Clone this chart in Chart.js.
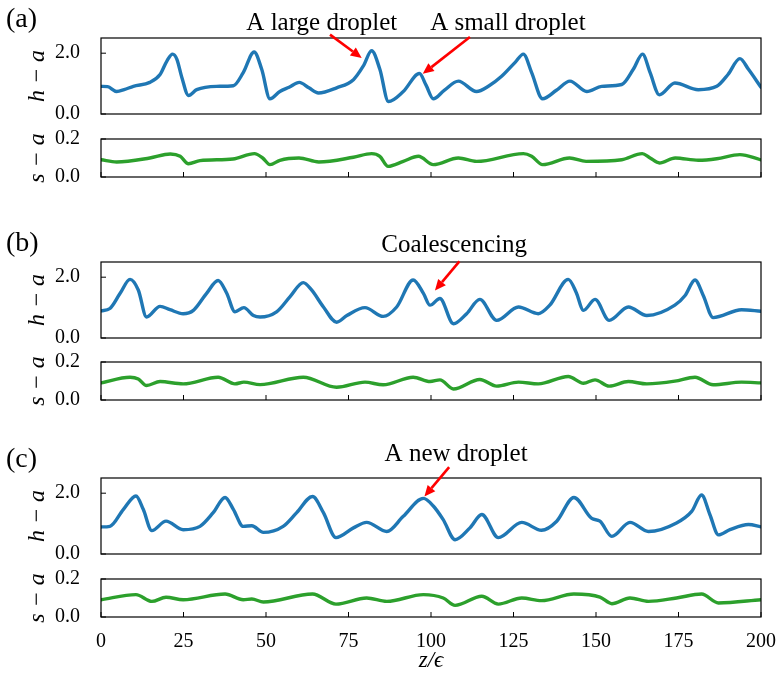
<!DOCTYPE html>
<html>
<head>
<meta charset="utf-8">
<script src="https://cdn.jsdelivr.net/npm/chart.js@4"></script>
<style>
  body { margin: 0; background: #fff; }
  #fig { position: relative; width: 778px; height: 675px; overflow: hidden; }
  #fig canvas { position: absolute; left: 0; }
</style>
</head>
<body>
<div id="fig"></div>
<script>
// axis ticks and labels
const xTicks = [0, 25, 50, 75, 100, 125, 150, 175, 200];
const hTicks = [0, 2];
const sTicks = [0, 0.2];
const hMax = 2.5;
const sMax = 0.2;
const hTitle = 'h − a';
const sTitle = 's − a';
const xTitle = 'z/ϵ';

// (a) film thickness h-a and s-a as [z, value]
const hA = [[0,0.91],[2,0.9],[4.75,0.74],[7,0.8],[9.8,0.91],[14.8,1.04],[17.9,1.3],[20,1.75],[21.7,1.97],[23,1.8],[24.5,1.2],[26.5,0.61],[29,0.8],[35,0.91],[40.1,0.93],[43.1,1.36],[46.4,2.04],[48.7,1.47],[51.2,0.5],[54.2,0.74],[57,0.88],[60.1,1.04],[63,0.86],[65.9,0.69],[71.4,0.86],[76.5,1.13],[79.5,1.58],[82,2.08],[84.5,1.47],[87.1,0.41],[91.6,0.74],[96.5,1.33],[98.5,0.95],[100.7,0.5],[104,0.78],[108.3,1.08],[113.8,0.74],[117.5,0.92],[121.4,1.24],[125.5,1.7],[128,1.97],[130.5,1.36],[133.8,0.5],[138,0.78],[142.1,1.08],[147.2,0.74],[151.7,0.91],[157.8,0.97],[161.3,1.47],[164.1,1.97],[166.4,1.36],[169.2,0.63],[173.9,1.02],[181,0.8],[186.6,0.91],[190,1.3],[193.6,1.82],[196.2,1.47],[200,0.88]];
const sA = [[0,0.091],[4.75,0.079],[14.8,0.1],[21,0.121],[24,0.109],[26.5,0.07],[30,0.086],[40,0.095],[46.5,0.123],[49,0.1],[51.2,0.065],[54.2,0.088],[60,0.1],[66,0.079],[76.5,0.104],[82,0.123],[84.5,0.109],[87,0.056],[91.6,0.082],[96.2,0.109],[100.7,0.065],[108.3,0.1],[113.8,0.082],[128,0.123],[130.5,0.109],[133.8,0.065],[142,0.1],[147,0.082],[157.8,0.091],[164,0.123],[166.4,0.1],[169.2,0.074],[174,0.1],[181,0.088],[186.6,0.096],[193.6,0.118],[200,0.09]];

// (b)
const hB = [[0,0.89],[2.7,0.97],[5.8,1.47],[8.8,1.93],[11.3,1.58],[13.8,0.69],[17.9,1.04],[20.9,0.93],[24.9,0.8],[28,0.91],[32,1.47],[35.5,1.89],[38.1,1.47],[40.6,0.86],[43.3,1.0],[46.2,0.74],[48.2,0.69],[53.2,0.86],[57.3,1.36],[61.3,1.82],[63.8,1.58],[67.4,1.02],[71.4,0.52],[74.5,0.74],[80,1.0],[85.5,0.71],[89.6,1.02],[94.6,1.91],[97.7,1.47],[99.7,1.08],[102.7,1.3],[106.8,0.47],[110.8,0.8],[114.8,1.27],[119.9,0.58],[126.5,1.02],[132.5,0.8],[136,1.08],[141.6,1.93],[144,1.5],[146.2,0.91],[149.7,1.27],[154,0.58],[159.8,1.02],[165.4,0.74],[173.9,1.08],[177,1.4],[180,1.91],[182.5,1.4],[185.5,0.67],[194.1,0.93],[200,0.88]];
const sB = [[0,0.09],[8.8,0.12],[11.3,0.111],[13.8,0.076],[17.9,0.097],[24.9,0.085],[35.5,0.12],[40.6,0.085],[43.3,0.094],[48.2,0.081],[61.3,0.12],[71.4,0.067],[80,0.094],[85.5,0.08],[94.6,0.12],[99.7,0.097],[102.7,0.106],[106.8,0.058],[114.8,0.108],[119.9,0.073],[126.5,0.094],[132.5,0.085],[141.6,0.124],[146.2,0.088],[149.7,0.106],[154,0.073],[159.8,0.097],[165.4,0.085],[173.9,0.099],[180,0.12],[185.5,0.08],[194.1,0.094],[200,0.09]];

// (c)
const hC = [[0,0.89],[2.7,0.91],[6.8,1.47],[10.6,1.91],[12.8,1.47],[15.4,0.77],[19.7,1.08],[24.9,0.8],[30,0.91],[34,1.36],[37.6,1.86],[40.1,1.47],[43.1,0.91],[45.7,0.93],[49.2,0.71],[55.2,0.91],[59.3,1.36],[64.1,1.89],[67.4,1.36],[71.2,0.54],[76.5,0.86],[80.5,1.04],[86.6,0.74],[91.6,1.24],[97.7,1.83],[100.7,1.58],[103.7,1.13],[107.3,0.47],[111.8,0.86],[115.4,1.3],[120.4,0.54],[127.5,1.04],[133.5,0.78],[138.1,1.08],[143.3,1.86],[148.7,1.17],[151.2,1.08],[154.8,0.58],[160.3,1.04],[165.9,0.74],[174.4,1.02],[179,1.4],[182,1.94],[184.5,1.3],[187.1,0.63],[190.6,0.8],[196.2,0.97],[200,0.89]];
const sC = [[0,0.091],[10.6,0.118],[15.4,0.082],[19.7,0.104],[24.9,0.091],[37.6,0.121],[43.1,0.091],[45.7,0.095],[49.2,0.079],[64.1,0.121],[71.2,0.068],[80.5,0.1],[86.6,0.082],[97.7,0.118],[103.7,0.1],[107.3,0.061],[115.4,0.109],[120.4,0.068],[127.5,0.1],[133.5,0.086],[143.3,0.121],[151.2,0.105],[154.8,0.07],[160.3,0.1],[165.9,0.082],[174.4,0.1],[182,0.121],[187.1,0.074],[200,0.091]];

// annotations: text anchor and arrow tail/head, in data units of the h panel
const notesA = [
  { text: 'A large droplet', at: [66.9, 2.77], from: [69.4, 2.61], to: [79.0, 1.84] },
  { text: 'A small droplet', at: [123.3, 2.77], from: [111.8, 2.53], to: [97.5, 1.32] }
];
const notesB = [
  { text: 'Coalescencing', at: [107, 2.83], from: [108.6, 2.52], to: [101.2, 1.56] }
];
const notesC = [
  { text: 'A new droplet', at: [107.6, 3.05], from: [105.5, 2.86], to: [98, 1.89] }
];

const BLUE = '#1f77b4';
const GREEN = '#2ca02c';
const SERIF = '"Liberation Serif", "DejaVu Serif", serif';
Chart.defaults.color = '#000';

const W = 778;
const LEFT = 101;
const RIGHT_PAD = 17;
const AXIS_H = 58;

const panels = [
  { data: hA, color: BLUE, max: hMax, ticks: hTicks, title: hTitle, top: 38, h: 76, padTop: 38, padBottom: 15, tag: '(a)', notes: notesA },
  { data: sA, color: GREEN, max: sMax, ticks: sTicks, title: sTitle, top: 139, h: 38, padTop: 15, padBottom: 15, xMarks: true },
  { data: hB, color: BLUE, max: hMax, ticks: hTicks, title: hTitle, top: 262, h: 76, padTop: 45, padBottom: 15, tag: '(b)', notes: notesB },
  { data: sB, color: GREEN, max: sMax, ticks: sTicks, title: sTitle, top: 362, h: 38, padTop: 15, padBottom: 15, xMarks: true },
  { data: hC, color: BLUE, max: hMax, ticks: hTicks, title: hTitle, top: 478, h: 76, padTop: 45, padBottom: 15, tag: '(c)', notes: notesC },
  { data: sC, color: GREEN, max: sMax, ticks: sTicks, title: sTitle, top: 579, h: 38, padTop: 15, padBottom: 0, xMarks: true, axis: true }
];

function makeFrame(p) {
  return {
    id: 'frame',
    afterDraw(chart) {
      const { ctx, chartArea: a, scales: { x, y } } = chart;
      ctx.save();
      ctx.strokeStyle = '#000';
      ctx.lineWidth = 1.2;
      ctx.strokeRect(a.left, a.top, a.right - a.left, a.bottom - a.top);

      // inward ticks
      ctx.lineWidth = 1;
      ctx.beginPath();
      p.ticks.forEach(v => {
        const py = y.getPixelForValue(v);
        ctx.moveTo(a.left, py);
        ctx.lineTo(a.left + 5, py);
      });
      if (p.xMarks) {
        xTicks.forEach(v => {
          const px = x.getPixelForValue(v);
          ctx.moveTo(px, a.bottom);
          ctx.lineTo(px, a.bottom - 5);
        });
      }
      ctx.stroke();

      if (p.tag) {
        ctx.fillStyle = '#000';
        ctx.font = '28px ' + SERIF;
        ctx.textAlign = 'left';
        ctx.textBaseline = 'middle';
        ctx.fillText(p.tag, 6, a.top - 18);
      }

      (p.notes || []).forEach(n => {
        ctx.fillStyle = '#000';
        ctx.font = '25px ' + SERIF;
        ctx.textAlign = 'center';
        ctx.textBaseline = 'alphabetic';
        ctx.fillText(n.text, x.getPixelForValue(n.at[0]), y.getPixelForValue(n.at[1]));

        const x0 = x.getPixelForValue(n.from[0]), y0 = y.getPixelForValue(n.from[1]);
        const x1 = x.getPixelForValue(n.to[0]), y1 = y.getPixelForValue(n.to[1]);
        const ang = Math.atan2(y1 - y0, x1 - x0);
        const hl = 11, hw = 5;
        const bx = x1 - hl * Math.cos(ang), by = y1 - hl * Math.sin(ang);
        ctx.strokeStyle = '#ff0000';
        ctx.fillStyle = '#ff0000';
        ctx.lineWidth = 2.6;
        ctx.beginPath();
        ctx.moveTo(x0, y0);
        ctx.lineTo(bx, by);
        ctx.stroke();
        ctx.beginPath();
        ctx.moveTo(x1, y1);
        ctx.lineTo(bx - hw * Math.sin(ang), by + hw * Math.cos(ang));
        ctx.lineTo(bx + hw * Math.sin(ang), by - hw * Math.cos(ang));
        ctx.closePath();
        ctx.fill();
      });
      ctx.restore();
    }
  };
}

const fig = document.getElementById('fig');

panels.forEach(p => {
  const height = p.padTop + p.h + p.padBottom + (p.axis ? AXIS_H : 0);
  const canvas = document.createElement('canvas');
  canvas.width = W;
  canvas.height = height;
  canvas.style.top = (p.top - p.padTop) + 'px';
  fig.appendChild(canvas);

  new Chart(canvas.getContext('2d'), {
    type: 'line',
    data: {
      datasets: [{
        data: p.data.map(([z, v]) => ({ x: z, y: v })),
        borderColor: p.color,
        borderWidth: 3.4,
        borderCapStyle: 'round',
        borderJoinStyle: 'round',
        pointRadius: 0,
        fill: false,
        cubicInterpolationMode: 'monotone'
      }]
    },
    options: {
      responsive: false,
      animation: false,
      devicePixelRatio: 1,
      layout: { padding: { top: p.padTop, bottom: p.padBottom, left: 0, right: RIGHT_PAD } },
      plugins: { legend: { display: false }, tooltip: { enabled: false } },
      scales: {
        x: {
          type: 'linear',
          min: 0,
          max: 200,
          afterBuildTicks: s => { s.ticks = xTicks.map(v => ({ value: v })); },
          afterFit: s => {
            s.height = p.axis ? AXIS_H : 0;
            s.paddingLeft = 0; s.paddingRight = 0; s.paddingTop = 0; s.paddingBottom = 0;
          },
          grid: { display: false },
          border: { display: false },
          ticks: {
            display: !!p.axis,
            autoSkip: false,
            maxRotation: 0,
            padding: 5,
            font: { family: SERIF, size: 20 },
            callback: v => String(v)
          },
          title: {
            display: !!p.axis,
            text: xTitle,
            font: { family: SERIF, size: 23, style: 'italic', lineHeight: 1 },
            padding: { top: 0, bottom: 3 }
          }
        },
        y: {
          min: 0,
          max: p.max,
          afterBuildTicks: s => { s.ticks = p.ticks.map(v => ({ value: v })); },
          afterFit: s => {
            s.width = LEFT;
            s.paddingLeft = 0; s.paddingRight = 0; s.paddingTop = 0; s.paddingBottom = 0;
          },
          grid: { display: false },
          border: { display: false },
          ticks: {
            autoSkip: false,
            padding: 13,
            font: { family: SERIF, size: 20 },
            callback: v => v.toFixed(1)
          },
          title: {
            display: true,
            text: p.title,
            font: { family: SERIF, size: 24, style: 'italic', lineHeight: 1 },
            padding: { top: 26, bottom: 0 }
          }
        }
      }
    },
    plugins: [makeFrame(p)]
  });
});
</script>
</body>
</html>
